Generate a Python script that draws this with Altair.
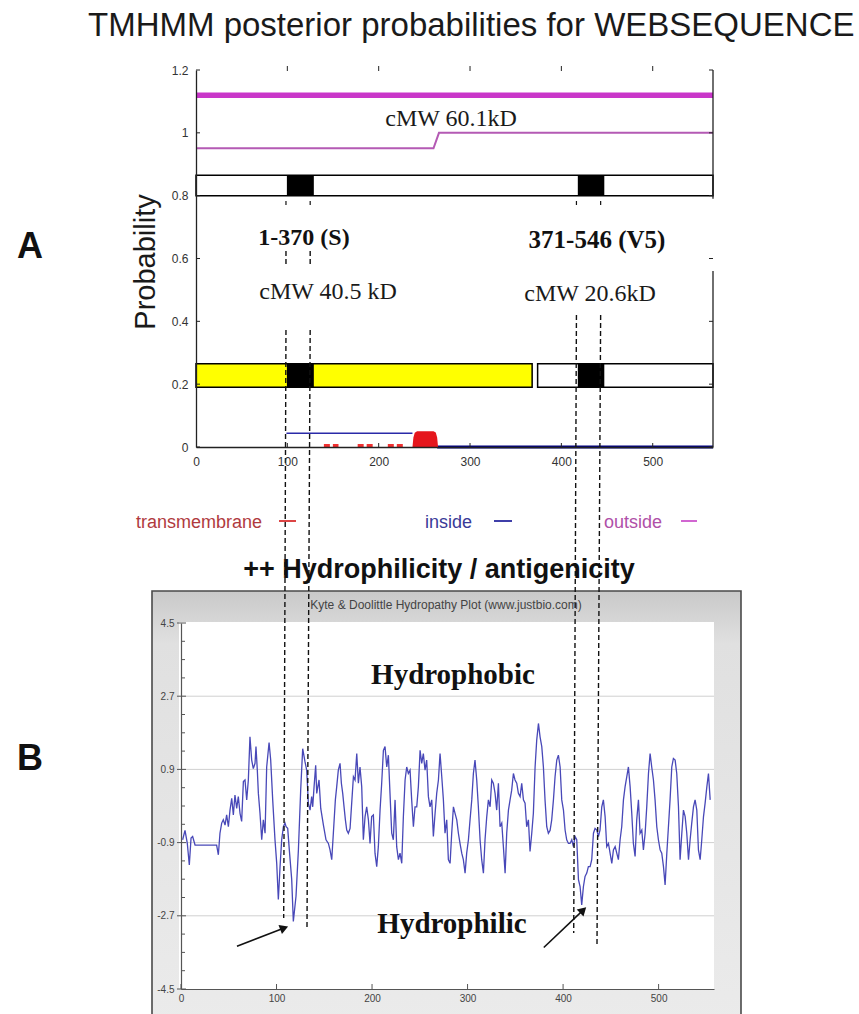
import altair as alt
import pandas as pd

SANS = "Liberation Sans"
SERIF = "Liberation Serif"

# ---------------- Panel A: TMHMM posterior probabilities ----------------
tm_x_ticks = [0, 100, 200, 300, 400, 500]
tm_y_ticks = [0, 0.2, 0.4, 0.6, 0.8, 1.0, 1.2]

outside_band_res = [0, 566]
outside_band_prob = [1.12, 1.12]
outside_res = [0, 260, 266, 566]
outside_prob = [0.951, 0.951, 1.0, 1.0]
inside_res = [99, 237]
inside_prob = [0.044, 0.044]
inside_tail_res = [264, 566]
inside_tail_prob = [0.0, 0.0]
tm_res = [237, 238, 239.5, 242, 260, 262.5, 264, 265]
tm_prob = [0.0, 0.03, 0.045, 0.05, 0.05, 0.046, 0.03, 0.0]
tm_flicker_start = [140, 177, 210]
tm_flicker_end = [156, 195, 227]

construct_start = [0]
construct_end = [566]
fragment_start = [0, 374]
fragment_end = [368, 566]
fragment_fill = ["#ffff00", "#ffffff"]
helix_start = [99.5, 418]
helix_end = [129, 447]

right_frame_lo = [0, 0.79]
right_frame_hi = [0.56, 1.2]

# fragment boundary guides (residue at top end, residue at bottom end)
guide_top_res = [98.5, 125, 416.5, 443]
guide_bottom_res = [96, 121.5, 413.5, 439]

# ---------------- Panel B: Kyte & Doolittle hydropathy ----------------
kd_x_ticks = [0, 100, 200, 300, 400, 500]
kd_y_ticks = [-4.5, -2.7, -0.9, 0.9, 2.7, 4.5]
kd_y_minor = [4.05, 3.6, 3.15, 2.25, 1.8, 1.35, 0.45, 0.0, -0.45,
              -1.35, -1.8, -2.25, -3.15, -3.6, -4.05]
kd_grid = [-2.7, -0.9, 0.9, 2.7]

kd_profile = [
    (1.7, -0.83), (4.2, -0.60), (6.6, -0.92), (8.7, -1.45), (10.5, -0.79),
    (12.2, -0.75), (14.7, -0.96), (37.3, -0.96), (39.1, -1.20), (40.8, -0.67),
    (42.6, -0.42), (44.3, -0.34), (46.1, -0.47), (47.8, -0.22), (49.6, -0.51),
    (51.3, -0.10), (53.1, 0.19), (54.8, -0.22), (56.5, 0.27), (58.3, -0.06),
    (60.0, 0.23), (61.8, -0.18), (63.5, -0.38), (65.3, 0.60), (67.0, 0.64),
    (68.8, 0.15), (70.5, 0.64), (72.2, 1.70), (74.0, 1.13), (75.7, 0.92),
    (77.5, 1.05), (78.5, 1.46), (79.9, 0.88), (81.0, 0.31), (82.7, -0.18),
    (84.5, -0.83), (86.2, -0.34), (88.0, -0.67), (89.7, 0.96), (92.2, 1.56),
    (93.9, 1.13), (96.0, 0.15), (98.4, -0.83), (100.2, -1.41), (101.9, -2.30),
    (103.7, -1.49), (105.4, -0.83), (107.2, -0.51), (108.9, -0.42), (110.0, -0.51),
    (111.7, -0.55), (113.4, -1.08), (115.9, -1.81), (117.6, -2.84), (120.4, -2.22),
    (122.9, -1.08), (125.3, 0.39), (127.4, 1.41), (129.8, 1.09), (131.6, 0.88),
    (133.3, 0.07), (135.1, -0.10), (136.8, 0.23), (137.9, -0.02), (139.3, 0.47),
    (141.0, 1.00), (142.1, 0.31), (144.5, 0.64), (146.3, -0.06), (149.1, -0.47),
    (151.8, -0.83), (154.3, -0.92), (156.0, -1.08), (157.8, -1.32), (159.5, -0.67),
    (161.6, 0.15), (163.0, 0.47), (164.7, 0.88), (166.5, 1.05), (167.9, 0.56),
    (169.3, 0.31), (170.7, -0.02), (172.1, -0.34), (173.5, -0.59), (175.2, -0.67),
    (177.0, -0.55), (178.7, 0.07), (180.5, 0.72), (182.2, 0.64), (184.0, 1.29),
    (185.7, 0.56), (187.4, 0.96), (189.2, 0.47), (190.9, -0.83), (192.7, -0.26),
    (194.4, -0.02), (196.2, -0.34), (197.9, -0.92), (199.6, -0.26), (201.4, -0.22),
    (203.1, -1.16), (204.9, -1.49), (206.6, -1.00), (208.4, -0.10), (210.1, 0.56),
    (211.9, 1.37), (213.6, 1.46), (215.4, 0.96), (217.1, 1.25), (218.8, 0.31),
    (220.6, -0.67), (222.3, -0.83), (224.1, 0.15), (225.8, -1.00), (227.6, -1.32),
    (229.3, -1.16), (231.1, -1.41), (232.8, -0.26), (234.6, 0.64), (236.3, 0.96),
    (238.0, 0.80), (239.8, 0.88), (241.5, 0.15), (243.3, -0.51), (245.0, -0.02),
    (246.8, -0.02), (248.5, 0.47), (250.3, 1.37), (252.0, 1.05), (253.7, 1.29),
    (255.5, 0.88), (257.2, 1.13), (259.0, 0.23), (260.7, -0.02), (262.5, 0.15),
    (264.2, -0.75), (266.0, -0.18), (267.7, 0.31), (269.5, 0.64), (271.2, 1.29),
    (273.0, 0.72), (274.7, 0.15), (276.4, -0.67), (278.2, -0.34), (279.9, -1.32),
    (281.7, -1.41), (283.4, -0.67), (285.2, -0.02), (286.9, -0.18), (288.7, -0.34),
    (290.4, -0.67), (292.1, -0.92), (293.9, -1.16), (295.6, -1.32), (297.4, -1.65),
    (299.1, -1.16), (300.9, -0.83), (302.6, -0.34), (304.4, 0.15), (306.1, 0.80),
    (307.8, 1.13), (309.6, 0.64), (311.3, -0.02), (313.1, -0.83), (314.8, -1.32),
    (316.6, -1.65), (318.3, -0.83), (320.1, -0.26), (321.8, 0.15), (323.6, -0.02),
    (325.3, 0.64), (327.0, 0.56), (328.8, 0.31), (330.5, -0.10), (332.3, 0.56),
    (334.0, -0.51), (335.8, -0.42), (337.5, -1.00), (339.3, -1.65), (341.0, -0.67),
    (342.8, -0.10), (344.5, 0.15), (346.2, 0.39), (348.0, 0.80), (349.7, 0.64),
    (351.5, 0.56), (353.2, 0.31), (355.0, 0.23), (356.7, 0.56), (358.5, 0.15),
    (360.2, 0.07), (361.9, -0.51), (363.7, -0.34), (365.4, -1.12), (367.2, -0.67),
    (368.9, -0.18), (370.7, 0.96), (372.4, 1.62), (374.2, 2.03), (375.9, 1.70),
    (377.7, 1.46), (379.4, 0.96), (381.1, 0.15), (382.9, -0.51), (384.6, -0.67),
    (386.4, -0.60), (388.1, -0.34), (389.9, 0.15), (391.6, 0.72), (393.4, 1.13),
    (395.1, 1.25), (396.9, 0.96), (398.6, 0.15), (400.4, -0.10), (402.1, -0.59),
    (403.8, -0.83), (405.6, -0.92), (407.3, -0.92), (409.1, -0.83), (410.8, -1.00),
    (412.6, -0.75), (414.3, -0.83), (416.1, -1.81), (417.8, -1.98), (419.5, -2.43),
    (421.3, -1.98), (423.0, -1.73), (424.8, -1.65), (426.5, -1.49), (428.3, -1.49),
    (430.0, -1.32), (431.8, -0.67), (433.5, -0.55), (435.3, -0.59), (437.0, -0.75),
    (438.7, -0.59), (440.5, -0.02), (442.2, 0.15), (444.0, -0.26), (445.7, -1.00),
    (447.5, -0.92), (449.2, -1.16), (451.0, -1.41), (452.7, -1.08), (454.5, -1.00),
    (456.2, -1.16), (457.9, -1.32), (459.7, -0.83), (461.4, -0.51), (463.2, 0.15),
    (464.9, 0.47), (466.7, 0.72), (468.4, 0.96), (470.2, 0.47), (471.9, -0.18),
    (473.6, -0.92), (475.4, -1.24), (477.1, -0.34), (478.9, 0.15), (480.6, -0.67),
    (482.4, -0.59), (484.1, -1.08), (485.9, -0.67), (487.6, -0.02), (489.4, 0.80),
    (491.1, 1.29), (492.8, 0.96), (494.6, 0.64), (496.3, 0.15), (498.1, -0.51),
    (499.8, -0.83), (501.6, -1.08), (503.3, -1.16), (505.1, -1.49), (506.8, -1.94),
    (508.6, -1.16), (510.3, -0.51), (512.0, 0.15), (513.8, 0.96), (515.5, 1.17),
    (517.3, 1.13), (519.0, 0.80), (520.8, -0.02), (522.5, -1.32), (524.3, -0.67),
    (526.0, -0.10), (527.8, -0.26), (529.5, -0.67), (531.3, -1.32), (533.0, -0.83),
    (534.7, -0.42), (536.5, -0.02), (538.2, 0.15), (540.0, -0.10), (541.7, -1.08),
    (543.5, -1.32), (545.2, -0.83), (547.0, -0.26), (548.7, 0.07), (550.5, 0.47),
    (552.2, 0.80), (554.0, 0.15),
]

# arrows pointing at the two hydrophilic troughs (residue, score)
arrow_tail_res = [58.6, 379.8]
arrow_tail_kd = [-3.45, -3.48]
arrow_head_res = [108.0, 421.0]
arrow_head_kd = [-3.0, -2.56]

# ---------------- scales (panel positions on the page) ----------------
SA_X = alt.Scale(domain=[0, 566], range=[196, 713], nice=False, zero=False)
SA_Y = alt.Scale(domain=[0, 1.2], range=[447, 70], nice=False, zero=False)
SB_X = alt.Scale(domain=[0, 558], range=[181, 714], nice=False, zero=False)
SB_Y = alt.Scale(domain=[-4.5, 4.5], range=[989, 623], nice=False, zero=False)

one = pd.DataFrame({"k": [0]})


def ax_a(field):
    return alt.X(field, scale=SA_X, axis=None)


def ay_a(field):
    return alt.Y(field, scale=SA_Y, axis=None)


def ax_b(field):
    return alt.X(field, scale=SB_X, axis=None)


def ay_b(field):
    return alt.Y(field, scale=SB_Y, axis=None)


def px_rect(x, x2, y, y2, **mark):
    return alt.Chart(one).mark_rect(**mark).encode(
        x=alt.value(x), x2=alt.value(x2), y=alt.value(y), y2=alt.value(y2))


def px_rule(x, x2, y, y2, **mark):
    return alt.Chart(one).mark_rule(**mark).encode(
        x=alt.value(x), x2=alt.value(x2), y=alt.value(y), y2=alt.value(y2))


def text_at(txt, x, y, **mark):
    mark.setdefault("baseline", "alphabetic")
    return alt.Chart(pd.DataFrame({"t": [txt]})).mark_text(**mark).encode(
        x=alt.value(x), y=alt.value(y), text="t:N")


def axis_style(**kw):
    # plain number labels (0, 0.2 ... 1, 1.2 / -4.5 ... 4.5 / 0 ... 500)
    base = dict(ticks=False, grid=False, title=None, labelFlush=False,
                labelOverlap=False, labelExpr="'' + datum.value", zindex=2)
    base.update(kw)
    return alt.Axis(**base)


layers = []

# ======================= Panel B =======================
frame_fill = alt.Gradient(
    gradient="linear", x1=0, y1=0, x2=0, y2=1,
    stops=[alt.GradientStop(color="#c9c9c9", offset=0),
           alt.GradientStop(color="#e0e0e0", offset=0.12),
           alt.GradientStop(color="#ebebeb", offset=1)])
layers.append(px_rect(152, 741, 591, 1030, fill=frame_fill, stroke="#4a4a4a", strokeWidth=1.6))
layers.append(px_rect(179, 714, 622, 989, fill="#ffffff"))

layers.append(
    alt.Chart(pd.DataFrame({"v": kd_grid})).mark_rule(color="#d0d0d0", strokeWidth=1).encode(
        y=ay_b("v:Q"), x=alt.value(181), x2=alt.value(714)))
layers.append(
    alt.Chart(pd.DataFrame({"v": kd_y_ticks})).mark_rule(color="#555555", strokeWidth=1).encode(
        y=ay_b("v:Q"), x=alt.value(177), x2=alt.value(186)))
layers.append(
    alt.Chart(pd.DataFrame({"v": kd_y_minor})).mark_rule(color="#555555", strokeWidth=1).encode(
        y=ay_b("v:Q"), x=alt.value(181), x2=alt.value(185)))
layers.append(
    alt.Chart(pd.DataFrame({"r": kd_x_ticks})).mark_rule(color="#555555", strokeWidth=1).encode(
        x=ax_b("r:Q"), y=alt.value(989), y2=alt.value(984)))

kd_df = pd.DataFrame(kd_profile, columns=["res", "kd"])
layers.append(
    alt.Chart(kd_df).mark_line(color="#4848b8", strokeWidth=1.3).encode(
        x=alt.X("res:Q", scale=SB_X, axis=axis_style(
            orient="bottom", offset=-25, values=kd_x_ticks,
            labelFont=SANS, labelFontSize=10, labelColor="#444444", labelPadding=4,
            domainColor="#555555", domainWidth=1.2)),
        y=alt.Y("kd:Q", scale=SB_Y, axis=axis_style(
            orient="left", offset=-181, values=kd_y_ticks,
            labelFont=SANS, labelFontSize=10, labelColor="#444444", labelPadding=7,
            domainColor="#555555", domainWidth=1.2)),
        order="res:Q"))

layers.append(text_at("Kyte & Doolittle Hydropathy Plot (www.justbio.com)", 446, 609,
                      font=SANS, fontSize=12, color="#444444", align="center"))
layers.append(text_at("Hydrophobic", 453, 684, font=SERIF, fontSize=29,
                      fontWeight="bold", color="#111111", align="center"))
layers.append(text_at("Hydrophilic", 452, 933, font=SERIF, fontSize=29,
                      fontWeight="bold", color="#111111", align="center"))

arrows = pd.DataFrame({"r0": arrow_tail_res, "v0": arrow_tail_kd,
                       "r1": arrow_head_res, "v1": arrow_head_kd})
layers.append(
    alt.Chart(arrows).mark_rule(color="#111111", strokeWidth=1.6).encode(
        x=ax_b("r0:Q"), y=ay_b("v0:Q"), x2="r1:Q", y2="v1:Q"))
for i, heading in enumerate([69, 46]):
    layers.append(
        alt.Chart(arrows.iloc[[i]]).mark_point(
            shape="triangle-up", filled=True, size=95, color="#111111",
            opacity=1, angle=heading).encode(x=ax_b("r1:Q"), y=ay_b("v1:Q")))

# ======================= Panel A =======================
layers.append(
    alt.Chart(pd.DataFrame({"s": construct_start, "e": construct_end})).mark_rect(
        fill="#ffffff", stroke="#000000", strokeWidth=1.5).encode(
        x=ax_a("s:Q"), x2="e:Q",
        y=alt.YDatum(0.80, scale=SA_Y, axis=None), y2=alt.Y2Datum(0.865)))
layers.append(
    alt.Chart(pd.DataFrame({"s": fragment_start, "e": fragment_end, "f": fragment_fill})).mark_rect(
        stroke="#000000", strokeWidth=1.5).encode(
        x=ax_a("s:Q"), x2="e:Q",
        y=alt.YDatum(0.19, scale=SA_Y, axis=None), y2=alt.Y2Datum(0.265),
        fill=alt.Fill("f:N", scale=None)))
for lo, hi in [(0.80, 0.865), (0.19, 0.265)]:
    layers.append(
        alt.Chart(pd.DataFrame({"s": helix_start, "e": helix_end})).mark_rect(
            fill="#000000").encode(
            x=ax_a("s:Q"), x2="e:Q",
            y=alt.YDatum(lo, scale=SA_Y, axis=None), y2=alt.Y2Datum(hi)))

layers.append(
    alt.Chart(pd.DataFrame({"r": outside_band_res, "p": outside_band_prob})).mark_line(
        color="#c936c9", strokeWidth=5.5).encode(x=ax_a("r:Q"), y=ay_a("p:Q")))
layers.append(
    alt.Chart(pd.DataFrame({"r": outside_res, "p": outside_prob})).mark_line(
        color="#b45ab4", strokeWidth=2).encode(
        x=alt.X("r:Q", scale=SA_X, axis=axis_style(
            orient="bottom", offset=-567, values=tm_x_ticks,
            labelFont=SANS, labelFontSize=12, labelColor="#333333", labelPadding=9,
            domainColor="#222222", domainWidth=1.3)),
        y=alt.Y("p:Q", scale=SA_Y, axis=axis_style(
            orient="left", offset=-196, values=tm_y_ticks,
            labelFont=SANS, labelFontSize=12, labelColor="#333333", labelPadding=8,
            domainColor="#222222", domainWidth=1.3))))
layers.append(
    alt.Chart(pd.DataFrame({"r": inside_res, "p": inside_prob})).mark_line(
        color="#2a2aa8", strokeWidth=1.6).encode(x=ax_a("r:Q"), y=ay_a("p:Q")))
layers.append(
    alt.Chart(pd.DataFrame({"r": inside_tail_res, "p": inside_tail_prob})).mark_line(
        color="#000080", strokeWidth=3).encode(x=ax_a("r:Q"), y=ay_a("p:Q")))
layers.append(
    alt.Chart(pd.DataFrame({"r": tm_res, "p": tm_prob})).mark_area(
        color="#e5161c", opacity=1).encode(x=ax_a("r:Q"), y=ay_a("p:Q")))
layers.append(
    alt.Chart(pd.DataFrame({"s": tm_flicker_start, "e": tm_flicker_end})).mark_rule(
        color="#f03030", strokeWidth=3.5, strokeDash=[6, 3]).encode(
        x=ax_a("s:Q"), x2="e:Q", y=alt.YDatum(0.004, scale=SA_Y, axis=None)))

# inward ticks and right-hand frame of panel A
layers.append(
    alt.Chart(pd.DataFrame({"p": tm_y_ticks})).mark_rule(color="#222222", strokeWidth=1).encode(
        y=ay_a("p:Q"), x=alt.value(196), x2=alt.value(200)))
layers.append(
    alt.Chart(pd.DataFrame({"p": tm_y_ticks})).mark_rule(color="#222222", strokeWidth=1).encode(
        y=ay_a("p:Q"), x=alt.value(709), x2=alt.value(713)))
layers.append(
    alt.Chart(pd.DataFrame({"r": tm_x_ticks[1:]})).mark_rule(color="#222222", strokeWidth=1).encode(
        x=ax_a("r:Q"), y=alt.value(447), y2=alt.value(443)))
layers.append(
    alt.Chart(pd.DataFrame({"r": tm_x_ticks[1:]})).mark_rule(color="#222222", strokeWidth=1).encode(
        x=ax_a("r:Q"), y=alt.value(66), y2=alt.value(71)))
layers.append(
    alt.Chart(pd.DataFrame({"lo": right_frame_lo, "hi": right_frame_hi})).mark_rule(
        color="#222222", strokeWidth=1.3).encode(
        y=ay_a("lo:Q"), y2="hi:Q", x=alt.value(713)))

layers.append(text_at("cMW 60.1kD", 451, 126, font=SERIF, fontSize=24, color="#1a1a1a", align="center"))
layers.append(text_at("1-370 (S)", 304, 245, font=SERIF, fontSize=24, fontWeight="bold",
                      color="#111111", align="center"))
layers.append(text_at("371-546 (V5)", 597, 248, font=SERIF, fontSize=25, fontWeight="bold",
                      color="#111111", align="center"))
layers.append(text_at("cMW 40.5 kD", 328, 299, font=SERIF, fontSize=24, color="#1a1a1a", align="center"))
layers.append(text_at("cMW 20.6kD", 590, 301, font=SERIF, fontSize=24, color="#1a1a1a", align="center"))

# legend row
layers.append(text_at("transmembrane", 136, 528, font=SANS, fontSize=18, color="#b03a3e", align="left"))
layers.append(px_rule(279, 296, 521, 521, color="#d83030", strokeWidth=1.8))
layers.append(text_at("inside", 425, 528, font=SANS, fontSize=18, color="#3a3a98", align="left"))
layers.append(px_rule(494, 512, 521, 521, color="#2a2aa0", strokeWidth=1.8))
layers.append(text_at("outside", 604, 528, font=SANS, fontSize=18, color="#b050a8", align="left"))
layers.append(px_rule(681, 697, 521, 521, color="#cc55cc", strokeWidth=1.8))

# headings
layers.append(text_at("TMHMM posterior probabilities for WEBSEQUENCE", 88, 36,
                      font=SANS, fontSize=33, color="#1a1a1a", align="left"))
layers.append(text_at("Probability", 146, 262, font=SANS, fontSize=29, color="#1a1a1a",
                      align="center", baseline="middle", angle=270))
layers.append(text_at("A", 17, 258, font=SANS, fontSize=36, fontWeight="bold", color="#111111", align="left"))
layers.append(text_at("B", 17, 770, font=SANS, fontSize=36, fontWeight="bold", color="#111111", align="left"))
layers.append(text_at("++ Hydrophilicity / antigenicity", 439, 578, font=SANS, fontSize=27,
                      fontWeight="bold", color="#111111", align="center"))

# dashed fragment-boundary guides running from panel A down into panel B
guides = pd.DataFrame({"top": guide_top_res, "bottom": guide_bottom_res})
guide_spans = [(330, 918), (330, 930), (315, 933), (315, 945)]
for i, (y0, y1) in enumerate(guide_spans):
    layers.append(
        alt.Chart(guides.iloc[[i]]).mark_rule(color="#111111", strokeWidth=1.4, strokeDash=[5, 3]).encode(
            x=ax_a("top:Q"), x2="bottom:Q", y=alt.value(y0), y2=alt.value(y1)))
layers.append(
    alt.Chart(guides.iloc[[0, 1]]).mark_rule(color="#111111", strokeWidth=1.4, strokeDash=[5, 3]).encode(
        x=ax_a("top:Q"), y=alt.value(251), y2=alt.value(267)))
layers.append(
    alt.Chart(guides).mark_rule(color="#111111", strokeWidth=1.2, strokeDash=[4, 3]).encode(
        x=ax_a("top:Q"), y=alt.value(201), y2=alt.value(208)))

chart = alt.layer(*layers).properties(
    width=859, height=1014,
    autosize=alt.AutoSizeParams(type="none"),
    padding=0,
    background="#ffffff",
).resolve_scale(x="independent", y="independent").resolve_axis(
    x="independent", y="independent"
).configure_view(strokeWidth=0)

chart.save("out.html", embed_options={"renderer": "svg", "actions": False})
